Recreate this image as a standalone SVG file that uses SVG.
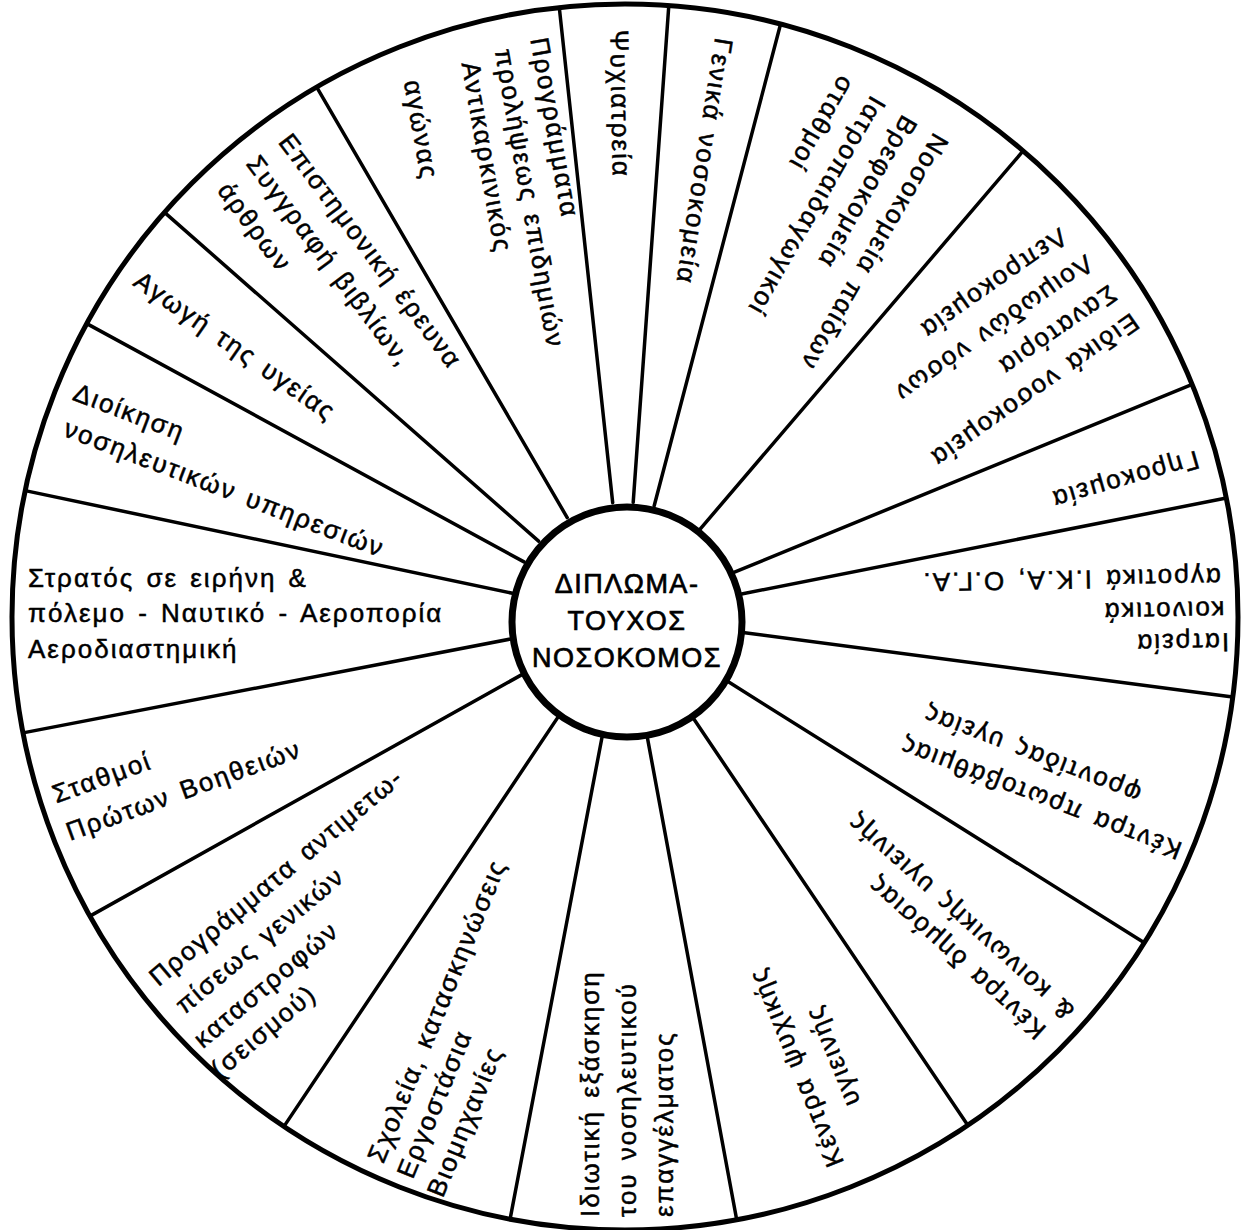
<svg xmlns="http://www.w3.org/2000/svg" width="1252" height="1230" viewBox="0 0 1252 1230">
  <style>
    .rim { fill: none; stroke: #000; stroke-width: 5; }
    .hub { fill: #fff; stroke: #000; stroke-width: 7; }
    .spoke { stroke: #000; stroke-width: 3.5; stroke-linecap: round; }
    .lbl { font-family: "Liberation Sans", Arial, sans-serif; font-size: 26px; letter-spacing: 2px; word-spacing: 3px; fill: #000; stroke: #000; stroke-width: 0.5; dominant-baseline: middle; }
    .hubtxt { font-family: "Liberation Sans", Arial, sans-serif; font-size: 27px; letter-spacing: 1.5px; fill: #000; stroke: #000; stroke-width: 0.7; text-anchor: middle; }
  </style>
  <rect width="1252" height="1230" fill="#fff"/>

  <!-- outer rim of the wheel -->
  <circle class="rim" cx="625" cy="617" r="613"/>

  <!-- spokes dividing the sectors -->
  <g id="spokes">
    <line class="spoke" x1="612.7" y1="502.7" x2="559.3" y2="7.6"/>
    <line class="spoke" x1="633.2" y1="502.3" x2="668.8" y2="5.6"/>
    <line class="spoke" x1="654.2" y1="505.8" x2="780.6" y2="24.0"/>
    <line class="spoke" x1="699.7" y1="529.6" x2="1023.1" y2="150.9"/>
    <line class="spoke" x1="731.4" y1="573.4" x2="1192.2" y2="384.4"/>
    <line class="spoke" x1="737.8" y1="594.7" x2="1226.4" y2="498.0"/>
    <line class="spoke" x1="739.0" y1="632.0" x2="1232.7" y2="697.0"/>
    <line class="spoke" x1="722.4" y1="678.1" x2="1144.3" y2="942.8"/>
    <line class="spoke" x1="689.3" y1="712.3" x2="967.8" y2="1125.2"/>
    <line class="spoke" x1="646.0" y1="730.1" x2="736.7" y2="1219.8"/>
    <line class="spoke" x1="603.4" y1="730.0" x2="510.1" y2="1219.2"/>
    <line class="spoke" x1="561.0" y1="712.6" x2="284.0" y2="1126.4"/>
    <line class="spoke" x1="524.6" y1="673.1" x2="89.9" y2="916.1"/>
    <line class="spoke" x1="512.1" y1="638.7" x2="23.0" y2="732.9"/>
    <line class="spoke" x1="512.5" y1="593.3" x2="25.2" y2="490.6"/>
    <line class="spoke" x1="524.0" y1="561.9" x2="86.8" y2="323.6"/>
    <line class="spoke" x1="538.6" y1="541.1" x2="164.5" y2="212.4"/>
    <line class="spoke" x1="567.2" y1="517.6" x2="316.7" y2="87.2"/>
  </g>

  <!-- hub -->
  <g id="hub">
    <circle class="hub" cx="627" cy="622" r="115"/>
    <text class="hubtxt" x="627" y="593">ΔΙΠΛΩΜΑ-</text>
    <text class="hubtxt" x="627" y="630">ΤΟΥΧΟΣ</text>
    <text class="hubtxt" x="627" y="667">ΝΟΣΟΚΟΜΟΣ</text>
  </g>

  <!-- sector labels, each reading from the rim toward the hub -->
  <g id="psychiatreia" transform="translate(617,30) rotate(89)">
    <text class="lbl" x="0" y="0">Ψυχιατρεία</text>
  </g>
  <g id="genika" transform="translate(722,38) rotate(99)">
    <text class="lbl" x="0" y="0">Γενικά νοσοκομεία</text>
  </g>
  <g id="paidon" transform="translate(940,135) rotate(120)">
    <text class="lbl" x="0" y="0">Νοσοκομεία παίδων</text>
    <text class="lbl" x="0" y="36">Βρεφοκομεία</text>
    <text class="lbl" x="-1" y="73">Ιατροπαιδαγωγικοί</text>
    <text class="lbl" x="-3" y="110">σταθμοί</text>
  </g>
  <g id="eidika" transform="translate(1135,318) rotate(145)">
    <text class="lbl" x="0" y="0">Ειδικά νοσοκομεία</text>
    <text class="lbl" x="2" y="36">Σανατόρια</text>
    <text class="lbl" x="4" y="74">Λοιμωδών νόσων</text>
    <text class="lbl" x="10" y="111">Λεπροκομεία</text>
  </g>
  <g id="girokomeia" transform="translate(1198,457) rotate(164)">
    <text class="lbl" x="0" y="0">Γηροκομεία</text>
  </g>
  <g id="iatreia" transform="translate(1229,640) rotate(179)">
    <text class="lbl" x="0" y="0">Ιατρεία</text>
    <text class="lbl" x="4" y="32">κοινοτικά</text>
    <text class="lbl" x="7" y="65">αγροτικά Ι.Κ.Α, Ο.Γ.Α.</text>
  </g>
  <g id="protovathmias" transform="translate(1181,850) rotate(201)">
    <text class="lbl" x="0" y="0">Κέντρα πρωτοβάθμιας</text>
    <text class="lbl" x="58" y="38">φροντίδας υγείας</text>
  </g>
  <g id="dimosias" transform="translate(1043,1033) rotate(222)">
    <text class="lbl" x="0" y="0">Κέντρα δημόσιας</text>
    <text class="lbl" x="-8" y="33">&amp; κοινωνικής υγιεινής</text>
  </g>
  <g id="psychikis" transform="translate(838,1165) rotate(247.75)">
    <text class="lbl" x="0" y="0">Κέντρα ψυχικής</text>
    <text class="lbl" x="50" y="38">υγιεινής</text>
  </g>
  <g id="idiotiki" transform="translate(592,1217) rotate(-90)">
    <text class="lbl" x="0" y="0">Ιδιωτική εξάσκηση</text>
    <text class="lbl" x="0" y="37">του νοσηλευτικού</text>
    <text class="lbl" x="0" y="74">επαγγέλματος</text>
  </g>
  <g id="scholeia" transform="translate(377,1162) rotate(-67.7)">
    <text class="lbl" x="0" y="0">Σχολεία, κατασκηνώσεις</text>
    <text class="lbl" x="-3" y="33">Εργοστάσια</text>
    <text class="lbl" x="-9" y="68">Βιομηχανίες</text>
  </g>
  <g id="katastrofon" transform="translate(154,982) rotate(-40)">
    <text class="lbl" x="0" y="0">Προγράμματα αντιμετω-</text>
    <text class="lbl" x="2" y="38">πίσεως γενικών</text>
    <text class="lbl" x="-6" y="76">καταστροφών</text>
    <text class="lbl" x="-12" y="110">(σεισμού)</text>
  </g>
  <g id="vootheion" transform="translate(54,797) rotate(-20)">
    <text class="lbl" x="0" y="0">Σταθμοί</text>
    <text class="lbl" x="0" y="40">Πρώτων Βοηθειών</text>
  </g>
  <g id="stratos" transform="translate(28,580)">
    <text class="lbl" x="0" y="0">Στρατός σε ειρήνη &amp;</text>
    <text class="lbl" x="0" y="35">πόλεμο - Ναυτικό - Αεροπορία</text>
    <text class="lbl" x="0" y="71">Αεροδιαστημική</text>
  </g>
  <g id="dioikisi" transform="translate(74,393) rotate(21)">
    <text class="lbl" x="0" y="0">Διοίκηση</text>
    <text class="lbl" x="4" y="37">νοσηλευτικών υπηρεσιών</text>
  </g>
  <g id="agogi" transform="translate(136,279) rotate(35)">
    <text class="lbl" x="0" y="0">Αγωγή της υγείας</text>
  </g>
  <g id="erevna" transform="translate(283,138) rotate(53)">
    <text class="lbl" x="0" y="0">Επιστημονική έρευνα</text>
    <text class="lbl" x="-2" y="39">Συγγραφή βιβλίων,</text>
    <text class="lbl" x="2" y="78">άρθρων</text>
  </g>
  <g id="prolipseos" transform="translate(537,38) rotate(80)">
    <text class="lbl" x="0" y="0">Προγράμματα</text>
    <text class="lbl" x="5" y="37">προλήψεως επιδημιών</text>
    <text class="lbl" x="12" y="72">Αντικαρκινικός</text>
    <text class="lbl" x="20" y="132">αγώνας</text>
  </g>
</svg>
